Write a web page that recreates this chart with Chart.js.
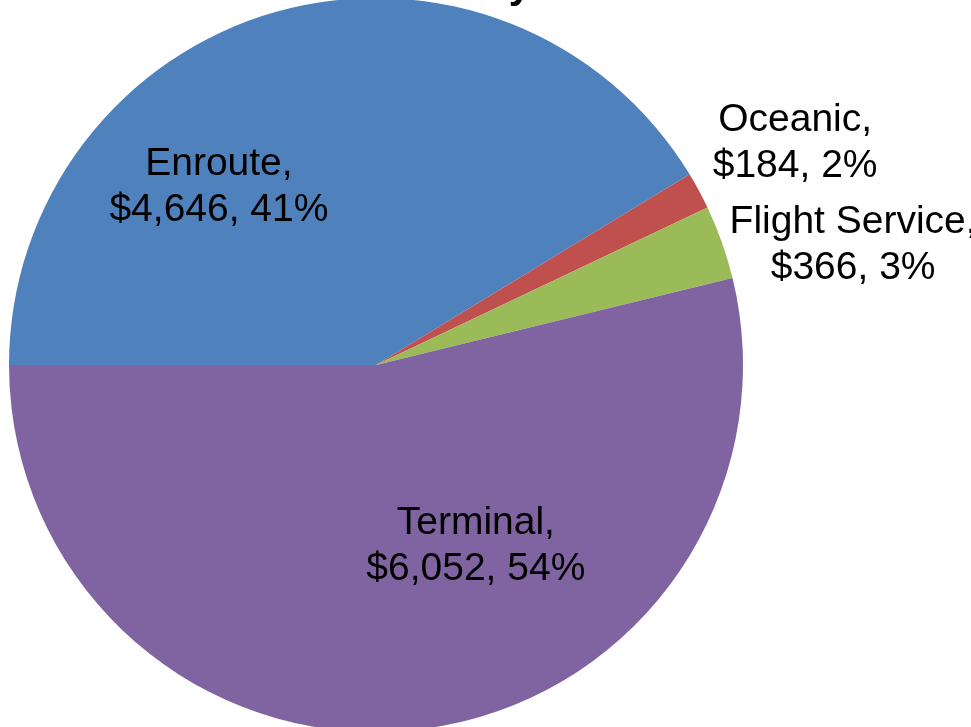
<!DOCTYPE html>
<html>
<head>
<meta charset="utf-8">
<script src="https://cdn.jsdelivr.net/npm/chart.js@4/dist/chart.umd.min.js"></script>
<style>
    html, body { margin: 0; padding: 0; background: #ffffff; overflow: hidden; }
    #wrap { position: absolute; left: 0; top: -4px; width: 971px; height: 738px; }
</style>
</head>
<body>
<div id="wrap"><canvas id="pieChart"></canvas></div>
<script>
const categories = ["Enroute", "Oceanic", "Flight Service", "Terminal"];
const costs = [4646, 184, 366, 6052];
const percents = [41, 2, 3, 54];
const sliceColors = ["#4f81bd", "#c0504d", "#9bbb59", "#8064a2"];

// label anchors as fractions of the pie radius from the centre
const labelSpots = [
    { fx: -0.428, fy: -0.49 },
    { fx: 1.142, fy: -0.61 },
    { fx: 1.3, fy: -0.332 },
    { fx: 0.272, fy: 0.488 },
];

const money = (v) => "$" + v.toLocaleString("en-US");

const labelPlugin = {
    id: "sliceLabels",
    afterDatasetsDraw(chart) {
        const ctx = chart.ctx;
        const arcs = chart.getDatasetMeta(0).data;
        ctx.save();
        ctx.fillStyle = "#000000";
        ctx.font = "39px 'Liberation Sans', Arial, sans-serif";
        ctx.textAlign = "center";
        ctx.textBaseline = "alphabetic";
        arcs.forEach((arc, i) => {
            const r = arc.outerRadius;
            const cx = arc.x + labelSpots[i].fx * r;
            const cy = arc.y + labelSpots[i].fy * r;
            ctx.fillText(categories[i] + ",", cx, cy - 10);
            ctx.fillText(money(costs[i]) + ", " + percents[i] + "%", cx, cy + 36);
        });
        // bottom of the cropped title
        ctx.font = "bold 40px 'Liberation Sans', Arial, sans-serif";
        ctx.textAlign = "right";
        ctx.fillText("y", 531, 2);
        ctx.restore();
    },
};

new Chart(document.getElementById("pieChart"), {
    type: "pie",
    data: {
        labels: categories,
        datasets: [
            {
                data: costs,
                backgroundColor: sliceColors,
                borderWidth: 0,
            },
        ],
    },
    options: {
        responsive: true,
        maintainAspectRatio: false,
        animation: false,
        rotation: -90,
        layout: { padding: { left: 9, right: 228, top: 0, bottom: 0 } },
        plugins: {
            legend: { display: false },
            tooltip: { enabled: false },
        },
    },
    plugins: [labelPlugin],
});
</script>
</body>
</html>
